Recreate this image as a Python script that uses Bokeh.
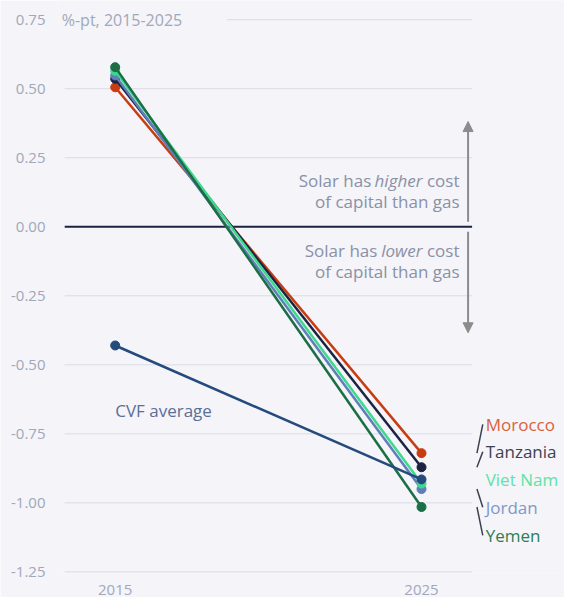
from bokeh.plotting import figure
from bokeh.models import Range1d, FixedTicker, Arrow, NormalHead
from bokeh.core.properties import value
from bokeh.embed import file_html
from bokeh.resources import INLINE

# ---------------- data ----------------
years = [2015, 2025]
countries = ["Morocco", "Tanzania", "Jordan", "Viet Nam", "Yemen"]
val_2015 = [0.505, 0.536, 0.548, 0.565, 0.578]
val_2025 = [-0.82, -0.871, -0.95, -0.93, -1.015]
cvf_label = "CVF average"
cvf_2015 = -0.43
cvf_2025 = -0.915
y_ticks = [-1.25, -1.0, -0.75, -0.5, -0.25, 0.0, 0.25, 0.5, 0.75]
y_tick_labels = ["-1.25", "-1.00", "-0.75", "-0.50", "-0.25", "0.00", "0.25", "0.50", "0.75"]
unit_label = "%-pt, 2015-2025"

# ---------------- style ----------------
FONT = "Open Sans"
BG = "#f4f4f9"
GRID = "#dadde5"
TICK_TXT = "#a0a8ba"
ANN_TXT = "#8a91a5"
line_colors = {"Morocco": "#c83c12", "Tanzania": "#1b2340", "Jordan": "#5f7fba",
               "Viet Nam": "#3fd98e", "Yemen": "#1b6e45"}
label_colors = {"Morocco": "#d9623d", "Tanzania": "#3c4150", "Jordan": "#8098c6",
                "Viet Nam": "#5fe3a3", "Yemen": "#2f7d52"}
CVF_COLOR = "#254a7c"

# label layout (y positions of right-hand labels, in value units)
label_y = {"Morocco": -0.716, "Tanzania": -0.815, "Viet Nam": -0.917,
           "Jordan": -1.016, "Yemen": -1.118}
label_order = ["Morocco", "Tanzania", "Viet Nam", "Jordan", "Yemen"]
connected = ["Morocco", "Tanzania", "Jordan", "Yemen"]

p = figure(width=564, height=597, output_backend="svg", toolbar_location=None,
           x_range=Range1d(2013.149, 2029.668), y_range=Range1d(-1.2558, 0.8194),
           min_border_left=58, min_border_right=0, min_border_top=0, min_border_bottom=23,
           background_fill_color=BG, border_fill_color=BG, outline_line_color=None)
p.grid.visible = False

# axes
p.yaxis.ticker = FixedTicker(ticks=y_ticks)
p.yaxis.major_label_overrides = {t: l for t, l in zip(y_ticks, y_tick_labels)}
p.yaxis.axis_line_color = None
p.yaxis.major_tick_line_color = None
p.yaxis.minor_tick_line_color = None
p.yaxis.major_label_standoff = 7
p.yaxis.major_label_text_font = FONT
p.yaxis.major_label_text_font_size = "15px"
p.yaxis.major_label_text_color = TICK_TXT

p.xaxis.ticker = FixedTicker(ticks=years)
p.xaxis.axis_line_color = None
p.xaxis.major_tick_line_color = None
p.xaxis.minor_tick_line_color = None
p.xaxis.major_label_standoff = 5
p.xaxis.major_label_text_font = FONT
p.xaxis.major_label_text_font_size = "15px"
p.xaxis.major_label_text_color = TICK_TXT

# gridlines (manual so they stop before the labels)
gx0, gx1 = 2013.352, 2026.651
grid_y = [t for t in y_ticks if t not in (0.0, 0.75)]
p.segment(x0=[gx0] * len(grid_y), x1=[gx1] * len(grid_y), y0=grid_y, y1=grid_y,
          line_color=GRID, line_width=1)
p.segment(x0=[2018.65], x1=[gx1], y0=[0.75], y1=[0.75], line_color=GRID, line_width=1)
p.segment(x0=[gx0], x1=[gx1], y0=[0.0], y1=[0.0], line_color="#1b2340", line_width=2)

# unit label next to top tick
p.text(x=[2013.254], y=[0.75], text=[unit_label], text_font=value(FONT),
       text_font_size="16px", text_color=TICK_TXT, text_baseline="middle", text_align="left")

# arrows
ax = 2026.52
head = dict(size=10, fill_color="#8c8c8c", line_color="#8c8c8c")
p.add_layout(Arrow(end=NormalHead(**head), x_start=ax, y_start=0.018, x_end=ax, y_end=0.381,
                   line_color="#8c8c8c", line_width=2))
p.add_layout(Arrow(end=NormalHead(**head), x_start=ax, y_start=-0.018, x_end=ax, y_end=-0.384,
                   line_color="#8c8c8c", line_width=2))

# annotation text
def ann(x, y, t, style="normal", align="right"):
    p.text(x=[x], y=[y], text=[t], text_font=value(FONT), text_font_size="17px",
           text_font_style=style, text_color=ANN_TXT, text_baseline="middle", text_align=align)

x_cost = 2026.24
ann(x_cost, 0.169, "cost")
ann(2025.03, 0.169, "higher", "italic")
ann(2023.36, 0.169, "Solar has")
ann(x_cost, 0.092, "of capital than gas")
ann(x_cost, -0.085, "cost")
ann(2025.03, -0.085, "lower", "italic")
ann(2023.56, -0.085, "Solar has")
ann(x_cost, -0.162, "of capital than gas")

# country lines
for c, a, b in zip(countries, val_2015, val_2025):
    col = line_colors[c]
    p.line(x=years, y=[a, b], line_color=col, line_width=2.5)
    p.scatter(x=years, y=[a, b], size=9, fill_color=col, line_color=col)

# CVF average
p.line(x=years, y=[cvf_2015, cvf_2025], line_color=CVF_COLOR, line_width=2.5)
p.scatter(x=years, y=[cvf_2015, cvf_2025], size=9, fill_color=CVF_COLOR, line_color=CVF_COLOR)
p.text(x=[2015], y=[-0.667], text=[cvf_label], text_font=value(FONT), text_font_size="17px",
       text_color="#5b6f96", text_baseline="middle", text_align="left")

# connectors and right-hand labels
end_val = dict(zip(countries, val_2025))
cx0, cx1 = 2026.81, 2027.0
p.segment(x0=[cx0] * len(connected), x1=[cx1] * len(connected),
          y0=[end_val[c] for c in connected], y1=[label_y[c] for c in connected],
          line_color="#3c4150", line_width=1.5)
for c in label_order:
    p.text(x=[2027.095], y=[label_y[c]], text=[c], text_font=value(FONT),
           text_font_size="17px", text_color=label_colors[c], text_baseline="middle",
           text_align="left")

open("out.html", "w").write(file_html(p, INLINE))
